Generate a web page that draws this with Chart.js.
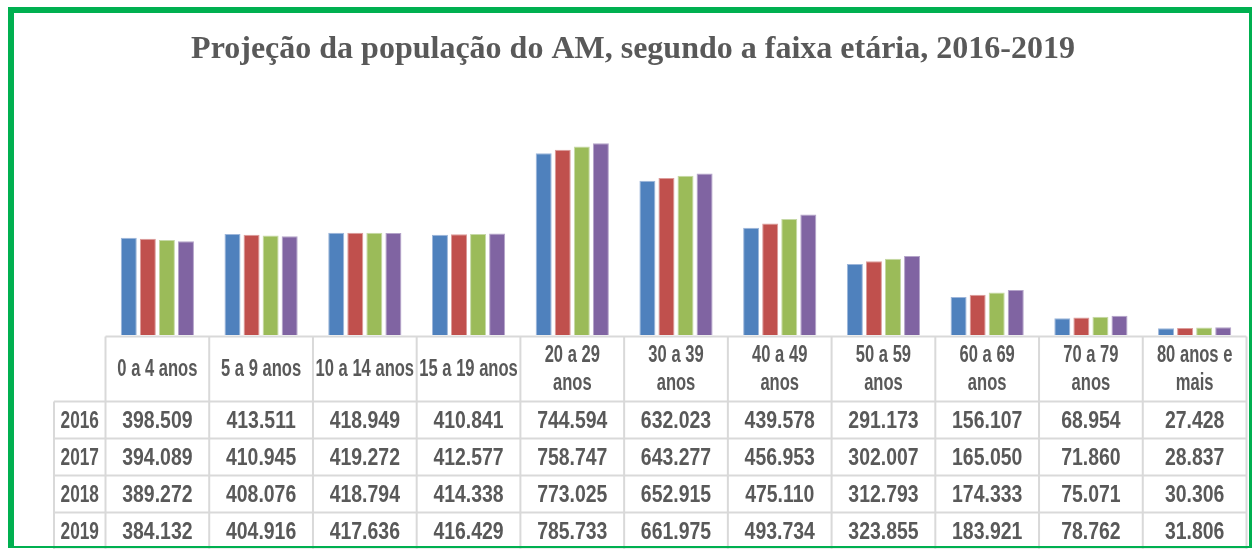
<!DOCTYPE html>
<html><head><meta charset="utf-8">
<script src="https://cdn.jsdelivr.net/npm/chart.js@4/dist/chart.umd.min.js"></script>
<style>
html,body{margin:0;padding:0;background:#fff;overflow:hidden;}
#wrap{position:relative;width:1254px;height:549px;}
#chart{position:absolute;left:0;top:0;}
#frame{position:absolute;left:8px;top:7px;width:1235px;height:533px;border-style:solid;border-color:#00b050;border-width:6px 3px 2px 6px;pointer-events:none;}
</style></head>
<body>
<div id="wrap"><canvas id="chart" width="1254" height="549"></canvas><div id="frame"></div></div>
<script>
const titleText = 'Projeção da população do AM, segundo a faixa etária, 2016-2019';
const categories = [['0 a 4 anos'],['5 a 9 anos'],['10 a 14 anos'],['15 a 19 anos'],['20 a 29','anos'],['30 a 39','anos'],['40 a 49','anos'],['50 a 59','anos'],['60 a 69','anos'],['70 a 79','anos'],['80 anos e','mais']];
const years = ['2016','2017','2018','2019'];
const values2016 = [398509,413511,418949,410841,744594,632023,439578,291173,156107,68954,27428];
const values2017 = [394089,410945,419272,412577,758747,643277,456953,302007,165050,71860,28837];
const values2018 = [389272,408076,418794,414338,773025,652915,475110,312793,174333,75071,30306];
const values2019 = [384132,404916,417636,416429,785733,661975,493734,323855,183921,78762,31806];
const seriesValues = [values2016, values2017, values2018, values2019];

const fillColors = ['#4f81bd','#c0504d','#9bbb59','#8064a2'];
const edgeColors = ['#9db6da','#dc9c9a','#c6d9a6','#b4a4c9'];
const TEXT = '#595959';
const GRID = '#d9d9d9';
const CELL_FONT = 'bold 24px "Liberation Sans", Arial, sans-serif';
const HEAD_FONT = 'bold 23px "Liberation Sans", Arial, sans-serif';

function fmt(v){ return String(v).replace(/\B(?=(\d{3})+(?!\d))/g,'.'); }
function narrowText(ctx, t, x, y, sx){
  ctx.save();
  ctx.translate(x, y);
  ctx.scale(sx, 1);
  ctx.fillText(t, 0, 0);
  ctx.restore();
}

const tablePlugin = {
  id: 'dataTable',
  afterDraw(chart){
    const ctx = chart.ctx;
    const xs = chart.scales.x;
    const area = chart.chartArea;
    const n = categories.length;
    const colW = (xs.getPixelForValue(n-1) - xs.getPixelForValue(0)) / (n-1);
    const left = xs.getPixelForValue(0) - colW/2;
    const right = xs.getPixelForValue(n-1) + colW/2;
    const top = area.bottom + 1.5;
    const headH = 65;
    const rowH = 37;
    const yearLeft = 54;
    const rowsTop = top + headH;
    const bottom = rowsTop + rowH * years.length;
    ctx.save();
    ctx.strokeStyle = GRID;
    ctx.lineWidth = 2;
    ctx.beginPath();
    ctx.moveTo(left, top); ctx.lineTo(right, top);
    for (let r = 0; r <= years.length; r++) {
      const y = rowsTop + r*rowH;
      ctx.moveTo(yearLeft, y); ctx.lineTo(right, y);
    }
    ctx.moveTo(yearLeft, rowsTop); ctx.lineTo(yearLeft, bottom);
    for (let c = 0; c <= n; c++) {
      const x = left + c*colW;
      ctx.moveTo(x, top); ctx.lineTo(x, bottom);
    }
    ctx.stroke();
    ctx.fillStyle = TEXT;
    ctx.textAlign = 'center';
    ctx.textBaseline = 'middle';
    ctx.font = HEAD_FONT;
    categories.forEach((lines, i) => {
      const cx = xs.getPixelForValue(i);
      const lh = 28;
      const cy = top + headH/2 + 1;
      lines.forEach((t, k) => {
        narrowText(ctx, t, cx, cy + (k - (lines.length-1)/2) * lh, 0.72);
      });
    });
    ctx.font = CELL_FONT;
    years.forEach((yr, r) => {
      const cy = rowsTop + r*rowH + rowH/2 + 1;
      narrowText(ctx, yr, (yearLeft + left)/2, cy, 0.72);
      seriesValues[r].forEach((v, i) => {
        narrowText(ctx, fmt(v), xs.getPixelForValue(i), cy, 0.81);
      });
    });
    ctx.restore();
  }
};

new Chart(document.getElementById('chart'), {
  type: 'bar',
  data: {
    labels: categories,
    datasets: years.map((yr, k) => ({
      label: yr,
      data: seriesValues[k],
      backgroundColor: fillColors[k],
      borderColor: edgeColors[k],
      borderWidth: 1,
      categoryPercentage: 0.735,
      barPercentage: 0.84
    }))
  },
  options: {
    responsive: false,
    animation: false,
    events: [],
    layout: { padding: { left: 19.5, right: 7.5, top: 0, bottom: 214 } },
    plugins: {
      legend: { display: false },
      tooltip: { enabled: false },
      title: {
        display: true,
        text: titleText,
        color: TEXT,
        font: { family: '"Liberation Serif", "Times New Roman", serif', size: 32, weight: 'bold', lineHeight: 1.2 },
        padding: { top: 30.8, bottom: 46.2 }
      }
    },
    scales: {
      x: { display: false },
      y: {
        min: 0, max: 900000,
        grid: { display: false },
        border: { display: false },
        ticks: { display: false },
        afterFit(scale){ scale.width = 86; }
      }
    }
  },
  plugins: [tablePlugin]
});
</script>
</body></html>
